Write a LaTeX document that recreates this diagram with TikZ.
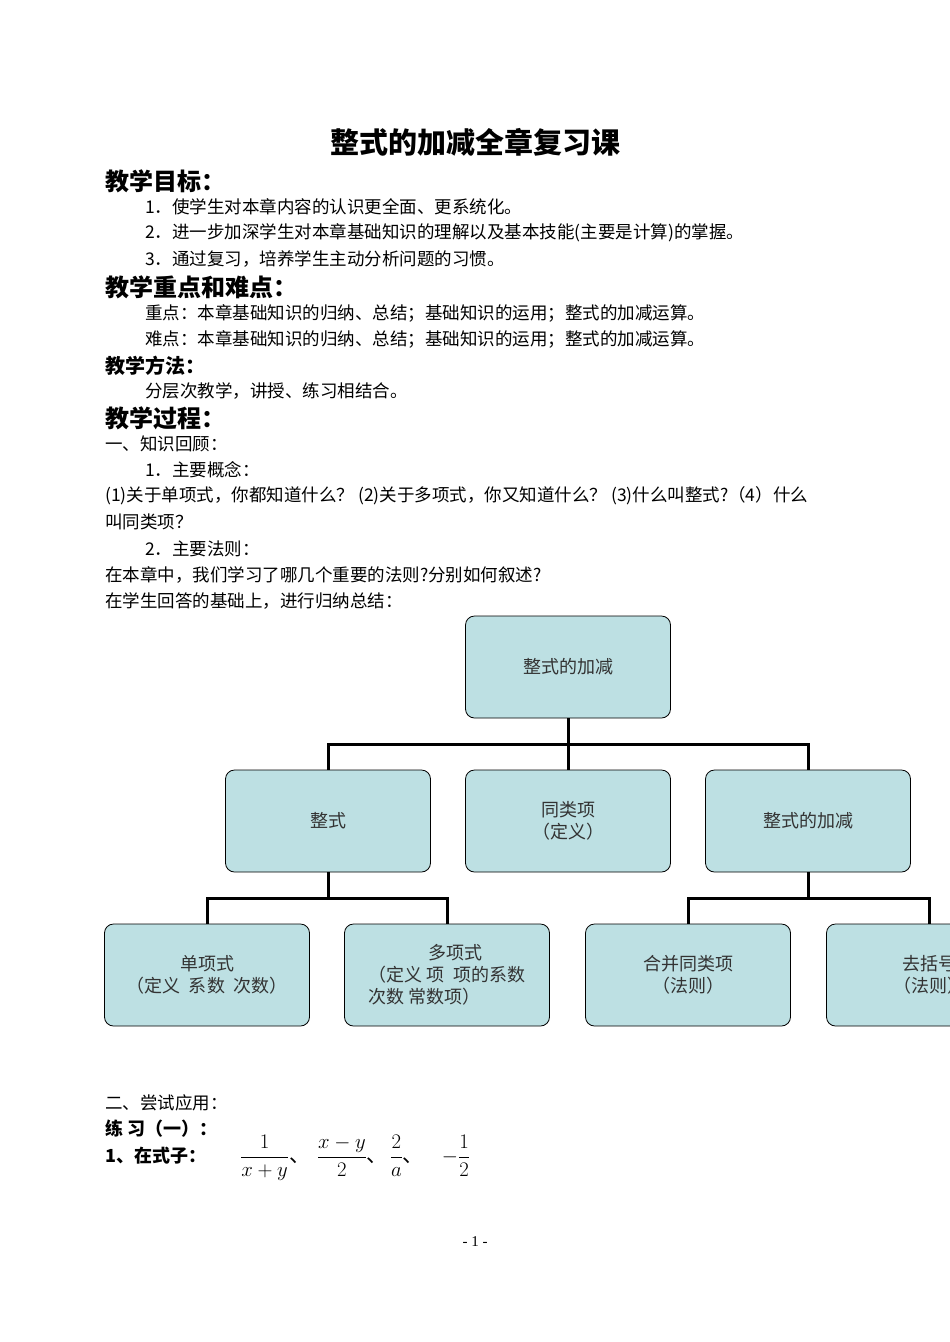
\documentclass[tikz,border=0pt]{standalone}
\usepackage{amsmath}
\usepackage{fontspec}
\setmainfont{Liberation Serif}
\newfontfamily\cjk{Noto Sans CJK SC}
\begin{document}
\begin{tikzpicture}[x=1pt,y=-1pt,
 box/.style={draw=black,thick,fill=boxc,rounded corners=9pt,minimum width=205pt,minimum height=102pt,align=center,font=\cjk\fontsize{18}{22}\selectfont,text=black!80},
 conn/.style={line width=3pt},
 t/.style={anchor=west,inner sep=0,font=\cjk\fontsize{17.5}{20}\selectfont},
 h/.style={anchor=west,inner sep=0,font=\cjk\bfseries\fontsize{24}{28}\selectfont}]
\definecolor{boxc}{HTML}{BDE0E3}
\useasboundingbox (0,0) rectangle (950,1342);
\clip (0,0) rectangle (950,1342);
\node[inner sep=0,font=\cjk\bfseries\fontsize{29}{32}\selectfont] (title) at (475,142) {整式的加减全章复习课};
\node[h] (h1) at (105,181) {教学目标：};
\node[t] (a1) at (145,207) {1．使学生对本章内容的认识更全面、更系统化。};
\node[t] (a2) at (145,233) {2．进一步加深学生对本章基础知识的理解以及基本技能(主要是计算)的掌握。};
\node[t] (a3) at (145,259) {3．通过复习，培养学生主动分析问题的习惯。};
\node[h] (h2) at (105,287) {教学重点和难点：};
\node[t] (b1) at (145,313) {重点：本章基础知识的归纳、总结；基础知识的运用；整式的加减运算。};
\node[t] (b2) at (145,339) {难点：本章基础知识的归纳、总结；基础知识的运用；整式的加减运算。};
\node[h,font=\cjk\bfseries\fontsize{20}{24}\selectfont] (h3) at (105,366) {教学方法：};
\node[t] (c1) at (145,391) {分层次教学，讲授、练习相结合。};
\node[h] (h4) at (105,418) {教学过程：};
\node[t] (d1) at (105,444) {一、知识回顾：};
\node[t] (d2) at (145,470) {1．主要概念：};
\node[t] (d3) at (105,496) {(1)关于单项式，你都知道什么？ (2)关于多项式，你又知道什么？ (3)什么叫整式?（4）什么};
\node[t] (d4) at (105,522) {叫同类项？};
\node[t] (d5) at (145,549) {2．主要法则：};
\node[t] (d6) at (105,575) {在本章中，我们学习了哪几个重要的法则?分别如何叙述?};
\node[t] (d7) at (105,601) {在学生回答的基础上，进行归纳总结：};
\node[box] (top) at (568,667) {整式的加减};
\node[box] (m1) at (328,821) {整式};
\node[box] (m2) at (568,821) {同类项\\（定义）};
\node[box] (m3) at (808,821) {整式的加减};
\node[box] (l1) at (207,975) {单项式\\（定义\ \ 系数\ \ 次数）};
\node[box,align=left] (l2) at (447,975) {\hspace{3.3em}多项式\\（定义\ 项\ \ 项的系数\\次数\ 常数项）};
\node[box] (l3) at (688,975) {合并同类项\\（法则）};
\node[box] (l4) at (929,975) {去括号\\（法则）};
\draw[conn] (top.south) |- (m1.north|-0,744) -- (m1.north);
\draw[conn] (top.south) |- (m3.north|-0,744) -- (m3.north);
\draw[conn] (top.south) -- (m2.north);
\draw[conn] (m1.south) |- (l1.north|-0,898) -- (l1.north);
\draw[conn] (m1.south) |- (l2.north|-0,898) -- (l2.north);
\draw[conn] (m3.south) |- (l3.north|-0,898) -- (l3.north);
\draw[conn] (m3.south) |- (l4.north|-0,898) -- (l4.north);
\node[t] (e1) at (105,1103) {二、尝试应用：};
\node[t,font=\cjk\bfseries\fontsize{18}{20}\selectfont] (e2) at (105,1129) {练\ 习（一）：};
\node[t,font=\cjk\bfseries\fontsize{18}{20}\selectfont] (e3) at (105,1156) {1、在式子：};
\node[anchor=west,inner sep=0,font=\fontsize{21}{24}\selectfont] (f) at (240,1158) {$\dfrac{\ 1\ }{x+y}$\hspace{1pt}{\cjk 、}\hspace{6pt}$\dfrac{x-y}{2}${\cjk 、}\hspace{2pt}$\dfrac{2}{a}${\cjk 、}\hspace{18pt}$-\dfrac{1}{2}$};
\node[inner sep=0,font=\fontsize{15}{18}\selectfont] (pg) at (475,1242) {- 1 -};
\end{tikzpicture}
\end{document}
